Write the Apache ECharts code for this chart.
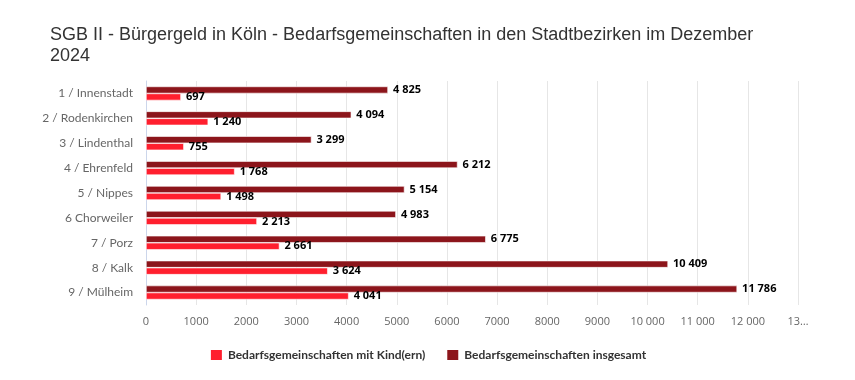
<!DOCTYPE html>
<html>
<head>
<meta charset="utf-8">
<script src="https://cdn.jsdelivr.net/npm/echarts@6/dist/echarts.min.js"></script>
<style>html,body{margin:0;padding:0;background:#fff}#c{width:855px;height:380px}</style>
</head>
<body>
<div id="c"></div>
<script>
const categories = ["1 / Innenstadt","2 / Rodenkirchen","3 / Lindenthal","4 / Ehrenfeld","5 / Nippes","6 Chorweiler","7 / Porz","8 / Kalk","9 / Mülheim"];
const mitKind = [697, 1240, 755, 1768, 1498, 2213, 2661, 3624, 4041];
const insgesamt = [4825, 4094, 3299, 6212, 5154, 4983, 6775, 10409, 11786];
const seriesNames = ["Bedarfsgemeinschaften mit Kind(ern)", "Bedarfsgemeinschaften insgesamt"];

function fmt(v){ return String(v).replace(/\B(?=(\d{3})+(?!\d))/g, ' '); }

const chart = echarts.init(document.getElementById('c'), null, {renderer:'canvas'});
const labelStyle = {show:true, position:'right', distance:5, fontFamily:'Open Sans', fontSize:11, fontWeight:'bold', color:'#000', formatter:p=>fmt(p.value)};
chart.setOption({
  animation:false,
  title:{text:'SGB II - Bürgergeld in Köln - Bedarfsgemeinschaften in den Stadtbezirken im Dezember\n2024', left:45, top:20,
    textStyle:{fontFamily:'Liberation Sans', fontSize:18, fontWeight:'normal', color:'#333', lineHeight:21}},
  legend:{top:343, left:'center', itemWidth:13, itemHeight:12, itemGap:20, icon:'rect',
    textStyle:{fontFamily:'Lato', fontSize:12, fontWeight:'bold', color:'#333'}, data:seriesNames},
  grid:{left:146, right:57, top:81, bottom:75, containLabel:false},
  xAxis:{type:'value', min:0, max:13000, interval:1000,
    axisLine:{show:false}, axisTick:{show:false},
    splitLine:{lineStyle:{color:'#e6e6e6'}},
    axisLabel:{margin:11, fontFamily:'Open Sans', fontSize:11, color:'#666',
      formatter:v=> v===13000 ? '13…' : (v<10000 ? String(v) : fmt(v))}},
  yAxis:{type:'category', data:categories, inverse:true,
    axisLine:{lineStyle:{color:'#ccd6eb'}},
    axisTick:{length:8, lineStyle:{color:'#ccd6eb'}},
    axisLabel:{margin:13, fontFamily:'Lato', fontSize:12, color:'#666'}},
  series:[
    {name:seriesNames[1], type:'bar', data:insgesamt, barWidth:7, barGap:'0%',
      itemStyle:{color:'#8c151b', borderColor:'#fff', borderWidth:0.6}, label:labelStyle},
    {name:seriesNames[0], type:'bar', data:mitKind, barWidth:7, barGap:'0%',
      itemStyle:{color:'#ff1f2e', borderColor:'#fff', borderWidth:0.6}, label:labelStyle}
  ]
});
</script>
</body>
</html>
